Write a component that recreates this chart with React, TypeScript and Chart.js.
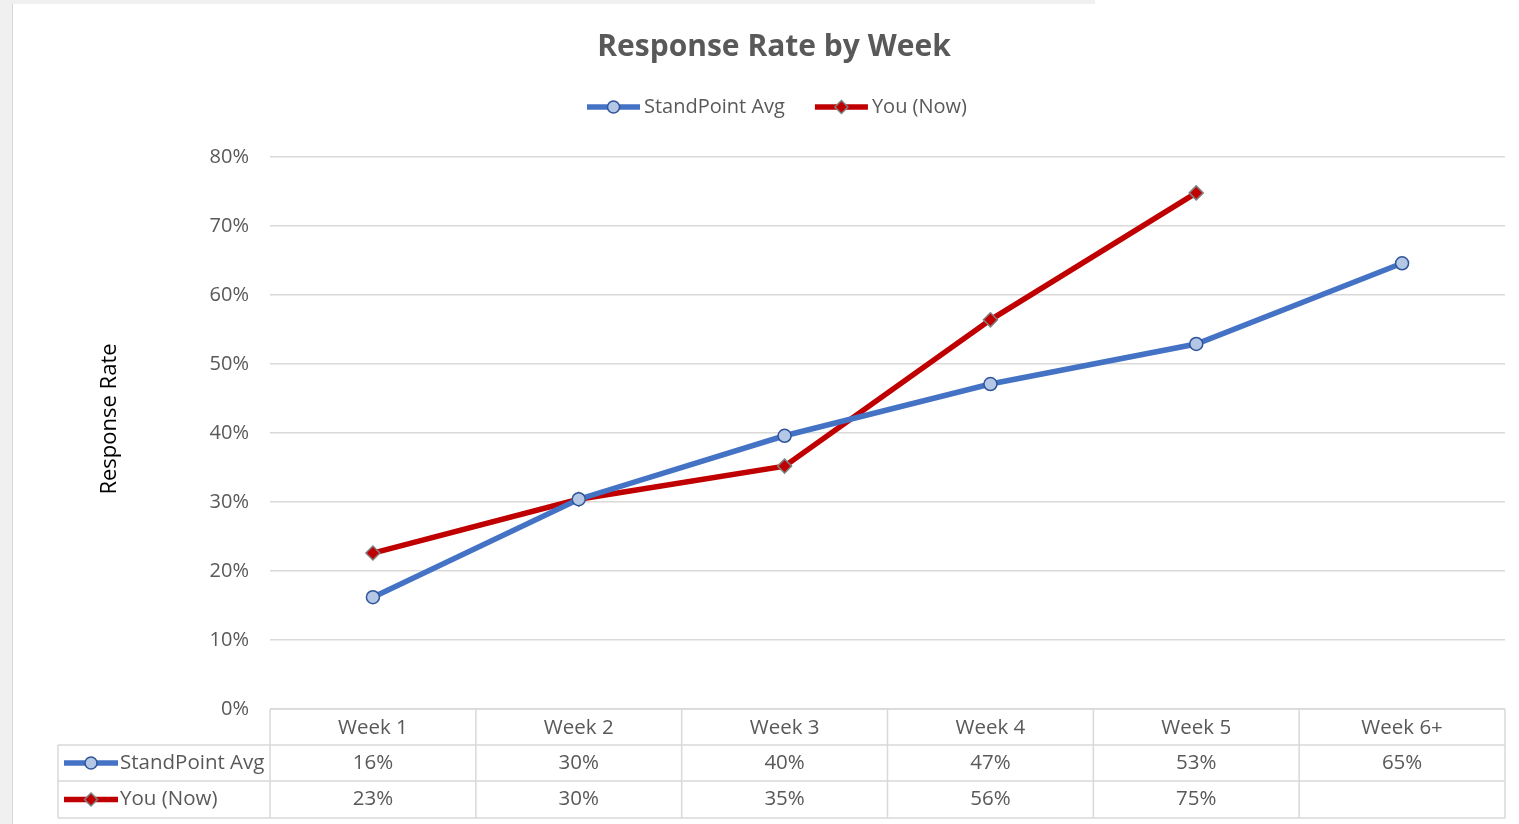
import React, { useEffect, useRef } from "react";
import { Chart, registerables } from "chart.js";

Chart.register(...registerables);

// ---- data ----
const categories = ["Week 1", "Week 2", "Week 3", "Week 4", "Week 5", "Week 6+"];
const standPointAvg: (number | null)[] = [16.2, 30.4, 39.6, 47.1, 52.9, 64.6];
const youNow: (number | null)[] = [22.6, 30.4, 35.2, 56.4, 74.8, null];
const seriesNames = ["StandPoint Avg", "You (Now)"];
const chartTitle = "Response Rate by Week";
const yAxisTitle = "Response Rate";
const yMax = 80;
const yStep = 10;

// ---- styles ----
const FONT = "'Open Sans', 'Noto Sans', sans-serif";
const TEXT = "#595959";
const GRID = "#d9d9d9";
const BLUE = "#4472C4";
const BLUE_FILL = "#b4c7e7";
const BLUE_EDGE = "#2f5597";
const RED = "#C00000";
const RED_EDGE = "#7f7f7f";

type Sty = { color: string; fill: string; edge: string; marker: "circle" | "diamond" };
const styles: Sty[] = [
  { color: BLUE, fill: BLUE_FILL, edge: BLUE_EDGE, marker: "circle" },
  { color: RED, fill: RED, edge: RED_EDGE, marker: "diamond" },
];

function drawKey(ctx: CanvasRenderingContext2D, x0: number, x1: number, y: number, s: Sty) {
  ctx.save();
  ctx.strokeStyle = s.color;
  ctx.lineWidth = 5.5;
  ctx.lineCap = "butt";
  ctx.beginPath();
  ctx.moveTo(x0, y);
  ctx.lineTo(x1, y);
  ctx.stroke();
  const cx = (x0 + x1) / 2;
  ctx.fillStyle = s.fill;
  ctx.strokeStyle = s.edge;
  ctx.lineWidth = 1.5;
  ctx.beginPath();
  if (s.marker === "circle") {
    ctx.arc(cx, y, 6, 0, Math.PI * 2);
  } else {
    const r = 6.5;
    ctx.moveTo(cx, y - r);
    ctx.lineTo(cx + r, y);
    ctx.lineTo(cx, y + r);
    ctx.lineTo(cx - r, y);
    ctx.closePath();
  }
  ctx.fill();
  ctx.stroke();
  ctx.restore();
}

const fmt = (v: number | null) => (v == null ? "" : Math.round(v) + "%");

const decorPlugin = {
  id: "decor",
  afterDraw(chart: any) {
    const ctx: CanvasRenderingContext2D = chart.ctx;
    const area = chart.chartArea;
    const xs = chart.scales.x;
    ctx.save();

    // title
    ctx.fillStyle = TEXT;
    ctx.font = `bold 30px ${FONT}`;
    ctx.textAlign = "center";
    ctx.textBaseline = "middle";
    ctx.fillText(chartTitle, 761, 43);

    // legend
    ctx.font = `20px ${FONT}`;
    const keyW = 53;
    const gapKT = 4;
    const gapItems = 30;
    const w0 = ctx.measureText(seriesNames[0]).width;
    const w1 = ctx.measureText(seriesNames[1]).width;
    const total = keyW + gapKT + w0 + gapItems + keyW + gapKT + w1;
    let lx = 764 - total / 2;
    const ly = 103;
    ctx.textAlign = "left";
    drawKey(ctx, lx, lx + keyW, ly, styles[0]);
    ctx.fillStyle = TEXT;
    ctx.fillText(seriesNames[0], lx + keyW + gapKT, ly);
    lx += keyW + gapKT + w0 + gapItems;
    drawKey(ctx, lx, lx + keyW, ly, styles[1]);
    ctx.fillStyle = TEXT;
    ctx.fillText(seriesNames[1], lx + keyW + gapKT, ly);

    // y axis title
    ctx.save();
    ctx.translate(97, 415);
    ctx.rotate(-Math.PI / 2);
    ctx.textAlign = "center";
    ctx.fillStyle = "#000000";
    ctx.font = `22px ${FONT}`;
    ctx.fillText(yAxisTitle, 0, 0);
    ctx.restore();

    // data table
    const rowH = 36;
    const top = area.bottom;
    const rows = [top, top + rowH, top + rowH * 2, top + rowH * 3 + 1];
    const tableLeft = 45;
    const n = categories.length;
    const colW = (area.right - area.left) / n;
    const bounds: number[] = [];
    for (let i = 0; i < n; i++) bounds.push(xs.getPixelForValue(i) - colW / 2);
    bounds.push(xs.getPixelForValue(n - 1) + colW / 2);

    ctx.strokeStyle = GRID;
    ctx.lineWidth = 1.5;
    ctx.beginPath();
    ctx.moveTo(bounds[0], rows[0]);
    ctx.lineTo(bounds[n], rows[0]);
    for (let r = 1; r < rows.length; r++) {
      ctx.moveTo(tableLeft, rows[r]);
      ctx.lineTo(bounds[n], rows[r]);
    }
    ctx.moveTo(tableLeft, rows[1]);
    ctx.lineTo(tableLeft, rows[3]);
    for (let i = 0; i <= n; i++) {
      ctx.moveTo(bounds[i], rows[0]);
      ctx.lineTo(bounds[i], rows[3]);
    }
    ctx.stroke();

    ctx.font = `20.5px ${FONT}`;
    ctx.fillStyle = TEXT;
    ctx.textAlign = "center";
    ctx.textBaseline = "middle";
    categories.forEach((c, i) => {
      ctx.fillText(c, xs.getPixelForValue(i), (rows[0] + rows[1]) / 2 + 1);
    });
    const series = [standPointAvg, youNow];
    series.forEach((vals, s) => {
      const cy = (rows[s + 1] + rows[s + 2]) / 2;
      vals.forEach((v, i) => {
        ctx.fillStyle = TEXT;
        ctx.textAlign = "center";
        ctx.fillText(fmt(v), xs.getPixelForValue(i), cy);
      });
      drawKey(ctx, tableLeft + 6, tableLeft + 60, cy, styles[s]);
      ctx.fillStyle = TEXT;
      ctx.textAlign = "left";
      ctx.fillText(seriesNames[s], tableLeft + 62, cy);
    });

    ctx.restore();
  },
};

export default function App() {
  const ref = useRef<HTMLCanvasElement | null>(null);
  useEffect(() => {
    if (!ref.current) return;
    const chart = new Chart(ref.current, {
      type: "line",
      data: {
        labels: categories,
        datasets: [
          {
            label: seriesNames[0],
            data: standPointAvg,
            borderColor: BLUE,
            borderWidth: 5.5,
            backgroundColor: BLUE_FILL,
            pointBackgroundColor: BLUE_FILL,
            pointBorderColor: BLUE_EDGE,
            pointBorderWidth: 1.5,
            pointRadius: 6.5,
            pointStyle: "circle",
            tension: 0,
          },
          {
            label: seriesNames[1],
            data: youNow,
            borderColor: RED,
            borderWidth: 5.5,
            backgroundColor: RED,
            pointBackgroundColor: RED,
            pointBorderColor: RED_EDGE,
            pointBorderWidth: 1.5,
            pointRadius: 7,
            pointStyle: "rectRot",
            tension: 0,
          },
        ],
      },
      options: {
        responsive: false,
        animation: false,
        devicePixelRatio: 1,
        layout: { padding: { top: 153, left: 0, right: 14, bottom: 0 } },
        plugins: {
          legend: { display: false },
          title: { display: false },
          tooltip: { enabled: false },
        },
        scales: {
          x: {
            type: "category",
            offset: true,
            grid: { display: false, drawTicks: false },
            border: { display: false },
            ticks: { display: false },
            afterFit: (s: any) => {
              s.height = 115;
            },
          },
          y: {
            min: 0,
            max: yMax,
            grid: { color: GRID, lineWidth: 1.5, drawTicks: false },
            border: { display: false },
            ticks: {
              stepSize: yStep,
              padding: 21,
              color: TEXT,
              font: { family: FONT, size: 20 },
              callback: (v: any) => v + "%",
            },
            afterFit: (s: any) => {
              s.width = 257;
            },
          },
        },
      },
      plugins: [decorPlugin],
    } as any);
    return () => chart.destroy();
  }, []);

  return (
    <div
      style={{
        position: "fixed",
        left: 0,
        top: 0,
        width: 1519,
        height: 824,
        background: "#f0f0f0",
        overflow: "hidden",
      }}
    >
      <div style={{ position: "absolute", left: 1095, top: 0, width: 424, height: 4, background: "#ffffff" }} />
      <div
        style={{
          position: "absolute",
          left: 12,
          top: 4,
          width: 1507,
          height: 820,
          background: "#ffffff",
          borderLeft: "1px solid #d6d6d6",
          boxSizing: "border-box",
        }}
      >
        <canvas ref={ref} width={1506} height={820} style={{ display: "block", width: 1506, height: 820 }} />
      </div>
    </div>
  );
}
